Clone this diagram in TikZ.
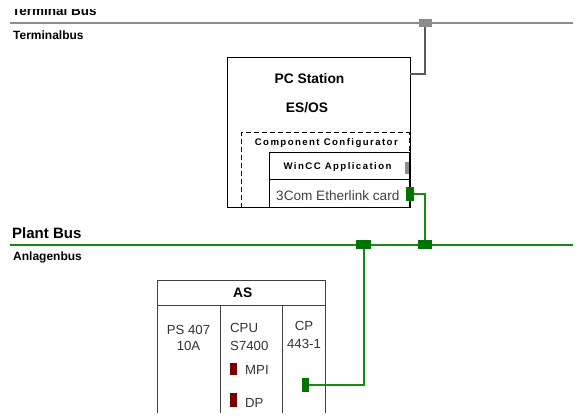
\documentclass[tikz,border=0pt]{standalone}
\usepackage{fontspec}
\setmainfont{Liberation Sans}
\usetikzlibrary{positioning,calc}
\definecolor{busgreen}{RGB}{20,140,20}
\definecolor{tapgreen}{RGB}{0,115,0}
\definecolor{busgray}{RGB}{140,140,140}
\definecolor{portred}{RGB}{120,0,0}

\begin{document}
\begin{tikzpicture}[x=1pt,y=-1pt,
  box/.style={draw,inner sep=0pt,outer sep=0pt,line width=0.8pt},
  tap/.style={inner sep=0pt,outer sep=0pt,minimum width=#1},
  busname/.style={anchor=base west,inner sep=0pt,font=\fontsize{12}{14}\selectfont\bfseries},
  title/.style={anchor=base,inner sep=0pt,font=\fontsize{13.8}{16}\selectfont\bfseries},
  spaced/.style={anchor=base,inner sep=0pt,font=\fontsize{9.6}{11}\selectfont\bfseries\addfontfeature{LetterSpace=15}},
  slot/.style={anchor=base,inner sep=0pt,font=\fontsize{13.2}{15}\selectfont,text=black!80},
  gline/.style={busgreen,line width=2pt},
  tline/.style={black!65,line width=1.5pt}]
\useasboundingbox (0,0) rectangle (579,420);

% terminal bus
\begin{scope}
\clip (0,9.6) rectangle (200,30);
\node[busname,font=\fontsize{13.5}{16}\selectfont\bfseries] (tbtop) at (12,15.8) {Terminal Bus};
\end{scope}
\coordinate (tbl) at (10,23);
\coordinate (tbr) at (573,23);
\draw[busgray,line width=2pt] (tbl) -- (tbr);
\node[tap=13pt,minimum height=8pt,fill=busgray] (ttap) at (425,23) {};
\node[busname] (tbname) at (13,40) {Terminalbus};

% PC station
\node[box,minimum width=183pt,minimum height=150pt] (pc) at (318.5,132) {};
\node[title] (pctitle) at (309.5,84) {PC Station};
\node[title] (esos) at (307,113) {ES/OS};
\node[box,dash pattern=on 5pt off 3pt,line width=1pt,minimum width=168pt,minimum height=74pt] (cc) at (325,170) {};
\node[spaced] (cctext) at (326.3,146) {Component Configurator};
\node[box,minimum width=140pt,minimum height=27pt] (wincc) at (339,165.5) {};
\node[spaced] (wincctext) at (337.5,169.3) {WinCC Application};
\node[inner sep=0pt,fill=black!45,minimum width=4pt,minimum height=12pt] (wmark) at (407,168) {};
\node[box,minimum width=140pt,minimum height=28pt] (card) at (339,193) {};
\node[anchor=base west,inner sep=0pt,font=\fontsize{13.6}{16}\selectfont,text=black!75] (cardtext) at (276,200) {3Com Etherlink card};
\node[tap=8pt,minimum height=14pt,fill=tapgreen] (cport) at (410,194) {};
\coordinate (pcin) at (410,74);
\draw[tline] (ttap) |- (pcin);

% plant bus
\node[busname,font=\fontsize{15}{17}\selectfont\bfseries] (pbname) at (12,238) {Plant Bus};
\coordinate (pbl) at (10,245);
\coordinate (pbr) at (573,245);
\draw[gline,line width=2.5pt] (pbl) -- (pbr);
\node[tap=15pt,minimum height=9pt,fill=tapgreen] (ptapA) at (363.5,244.5) {};
\node[tap=14pt,minimum height=9pt,fill=tapgreen] (ptapB) at (425,244.5) {};
\node[busname] (abname) at (13,260) {Anlagenbus};
\draw[gline] (cport) -| (ptapB);

% AS rack
\node[box,draw=black!75,minimum width=168pt,minimum height=25pt] (as) at (241,292.5) {};
\node[title] (astext) at (242.7,297) {AS};
\foreach \cx in {157,220,282,325}
  \draw[black!75,line width=0.8pt] (\cx,305) -- (\cx,413);
\node[slot] (ps1) at (188.5,334) {PS 407};
\node[slot] (ps2) at (188.5,350) {10A};
\node[slot,anchor=base west] (cpu1) at (230,332) {CPU};
\node[slot,anchor=base west] (cpu2) at (230,350) {S7400};
\node[slot] (cp1) at (304,330) {CP};
\node[slot] (cp2) at (304,348) {443-1};
\node[tap=7pt,minimum height=12pt,fill=portred] (mpi) at (233.5,368.5) {};
\node[slot,anchor=base west] (mpitext) at (245,374) {MPI};
\node[tap=7pt,minimum height=14pt,fill=portred] (dp) at (233.5,400) {};
\node[slot,anchor=base west] (dptext) at (245,407) {DP};
\node[tap=7pt,minimum height=14pt,fill=tapgreen] (cpport) at (305.5,385) {};
\draw[gline] (cpport) -| (ptapA);
\end{tikzpicture}
\end{document}
